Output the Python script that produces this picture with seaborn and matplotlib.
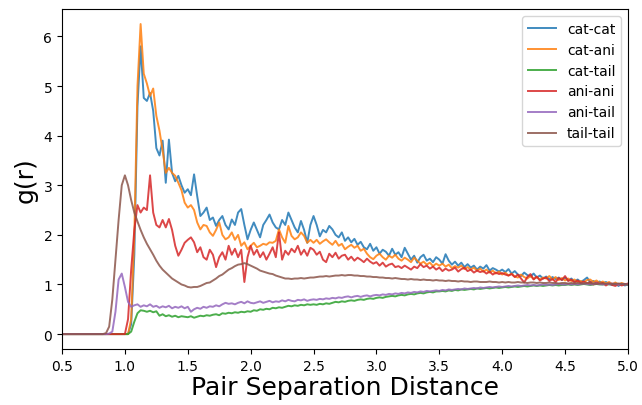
import numpy as np
import pandas as pd
import matplotlib
matplotlib.use("Agg")
import matplotlib.pyplot as plt
import seaborn as sns

# distance bins (step 0.025 from 0.5 to 5.0)
r = np.round(np.arange(0.5, 5.0 + 1e-9, 0.025), 3)

zeros14 = [0.0] * 14
zeros15 = [0.0] * 15
zeros20 = [0.0] * 20

cat_cat = zeros20 + [
    0.0, 0.0, 0.2, 1.6, 4.6, 5.8, 4.76, 4.7, 4.86, 4.5, 3.75, 3.6, 3.9, 3.05, 3.92, 3.25, 3.08, 3.19, 3.0, 2.85,
    2.92, 2.8, 3.22, 2.78, 2.38, 2.45, 2.55, 2.3, 2.35, 2.18, 2.3, 2.38, 2.2, 2.11, 2.31, 2.2, 2.45, 2.52, 2.2, 1.91,
    2.1, 2.25, 2.1, 1.95, 2.2, 2.3, 2.41, 2.25, 2.15, 2.11, 2.3, 2.2, 2.45, 2.3, 2.15, 2.05, 2.28, 2.1, 1.84, 2.2,
    2.38, 2.2, 1.97, 2.1, 2.05, 2.18, 2.11, 2.0, 1.95, 2.05, 1.88, 1.95, 1.85, 1.92, 1.8, 1.86, 1.75, 1.71, 1.82, 1.68,
    1.75, 1.62, 1.7, 1.66, 1.58, 1.72, 1.6, 1.65, 1.55, 1.74, 1.62, 1.5, 1.58, 1.44, 1.55, 1.6, 1.48, 1.52, 1.45, 1.55,
    1.5, 1.42, 1.61, 1.48, 1.4, 1.46, 1.38, 1.44, 1.35, 1.41, 1.34, 1.38, 1.3, 1.36, 1.32, 1.39, 1.28, 1.33, 1.3, 1.26,
    1.3, 1.25, 1.31, 1.22, 1.27, 1.2, 1.17, 1.24, 1.19, 1.16, 1.22, 1.14, 1.18, 1.12, 1.16, 1.1, 1.15, 1.11, 1.14, 1.09,
    1.14, 1.08, 1.12, 1.06, 1.1, 1.05, 1.09, 1.14, 1.04, 1.07, 1.03, 1.06, 1.02, 1.05, 1.01, 0.99, 1.03, 0.97, 1.02, 0.98,
    1.0]

cat_ani = zeros20 + [
    0.0, 0.0, 0.3, 2.0, 5.0, 6.25, 5.25, 5.05, 4.8, 4.95, 4.4, 4.1, 3.7, 3.25, 3.35, 3.25, 3.19, 3.05, 2.9, 2.65,
    2.55, 2.6, 2.5, 2.25, 2.11, 2.2, 2.18, 2.05, 1.98, 2.1, 2.25, 2.0, 1.91, 1.95, 2.05, 1.9, 2.0, 1.78, 1.85, 1.71,
    1.78, 1.84, 1.75, 1.78, 1.82, 1.8, 1.85, 1.84, 1.88, 2.11, 1.95, 1.84, 2.18, 1.98, 1.91, 1.95, 2.05, 1.98, 1.84, 1.9,
    1.84, 1.9, 1.82, 1.87, 1.91, 1.85, 1.8, 1.88, 1.78, 1.82, 1.71, 1.76, 1.8, 1.74, 1.78, 1.68, 1.72, 1.62, 1.55, 1.51,
    1.58, 1.62, 1.55, 1.5, 1.58, 1.54, 1.6, 1.52, 1.48, 1.54, 1.5, 1.45, 1.54, 1.48, 1.42, 1.46, 1.4, 1.44, 1.37, 1.42,
    1.38, 1.42, 1.36, 1.4, 1.33, 1.37, 1.34, 1.38, 1.31, 1.35, 1.3, 1.34, 1.28, 1.32, 1.26, 1.3, 1.24, 1.28, 1.22, 1.26,
    1.2, 1.24, 1.18, 1.22, 1.16, 1.14, 1.2, 1.15, 1.12, 1.17, 1.11, 1.15, 1.1, 1.14, 1.12, 1.17, 1.1, 1.15, 1.09, 1.13,
    1.08, 1.12, 1.07, 1.1, 1.05, 1.07, 1.04, 1.09, 1.1, 1.05, 1.08, 1.03, 1.06, 1.02, 1.05, 1.01, 1.04, 1.0, 1.03, 1.01,
    1.0]

cat_tail = zeros20 + [
    0.0, 0.0, 0.05, 0.25, 0.42, 0.48, 0.47, 0.45, 0.47, 0.44, 0.46, 0.37, 0.4, 0.36, 0.38, 0.35, 0.37, 0.34, 0.36, 0.35,
    0.34, 0.36, 0.33, 0.35, 0.37, 0.36, 0.38, 0.37, 0.39, 0.4, 0.38, 0.42, 0.41, 0.43, 0.42, 0.44, 0.43, 0.45, 0.44, 0.46,
    0.45, 0.48, 0.47, 0.5, 0.49, 0.51, 0.5, 0.53, 0.52, 0.54, 0.53, 0.55, 0.57, 0.56, 0.58, 0.57, 0.59, 0.58, 0.6, 0.59,
    0.6, 0.59, 0.61, 0.6, 0.62, 0.61, 0.63, 0.65, 0.64, 0.66, 0.65, 0.67, 0.68, 0.67, 0.69, 0.7, 0.69, 0.71, 0.72, 0.71,
    0.73, 0.74, 0.73, 0.75, 0.76, 0.77, 0.76, 0.78, 0.79, 0.78, 0.8, 0.81, 0.8, 0.82, 0.83, 0.82, 0.84, 0.85, 0.84, 0.86,
    0.86, 0.87, 0.86, 0.88, 0.87, 0.89, 0.88, 0.9, 0.89, 0.9, 0.91, 0.9, 0.92, 0.91, 0.92, 0.93, 0.92, 0.93, 0.94, 0.93,
    0.94, 0.95, 0.94, 0.95, 0.96, 0.95, 0.96, 0.97, 0.96, 0.97, 0.98, 0.97, 0.98, 0.97, 0.98, 0.99, 0.98, 0.99, 0.98, 0.99,
    0.99, 1.0, 0.99, 1.0, 0.99, 1.0, 1.01, 1.0, 0.99, 1.0, 1.01, 1.0, 1.0, 1.01, 1.0, 1.01, 1.0, 1.01, 1.0, 1.01,
    1.0]

ani_ani = zeros20 + [
    0.0, 0.3, 1.3, 2.1, 2.6, 2.45, 2.55, 2.5, 3.2, 2.45, 2.2, 2.15, 2.3, 2.15, 2.32, 2.1, 1.78, 1.58, 1.7, 1.84,
    1.9, 1.95, 1.85, 1.65, 1.75, 1.55, 1.5, 1.7, 1.6, 1.35, 1.55, 1.65, 1.5, 1.78, 1.6, 1.72, 1.55, 1.7, 1.05, 1.55,
    1.78, 1.6, 1.7, 1.55, 1.65, 1.5, 1.62, 1.75, 1.55, 2.05, 1.5, 1.68, 1.6, 1.72, 1.65, 1.78, 1.6, 1.7, 1.58, 1.74,
    1.7, 1.6, 1.66, 1.5, 1.45, 1.62, 1.55, 1.64, 1.52, 1.58, 1.6, 1.5, 1.56, 1.48, 1.54, 1.5, 1.45, 1.52, 1.46, 1.42,
    1.45, 1.38, 1.44, 1.36, 1.4, 1.42, 1.35, 1.37, 1.33, 1.38, 1.34, 1.3, 1.36, 1.33, 1.41, 1.35, 1.38, 1.32, 1.36, 1.3,
    1.34, 1.27, 1.32, 1.28, 1.3, 1.34, 1.26, 1.31, 1.34, 1.27, 1.3, 1.24, 1.28, 1.25, 1.27, 1.22, 1.26, 1.2, 1.24, 1.21,
    1.23, 1.2, 1.18, 1.21, 1.15, 1.2, 1.12, 1.04, 1.15, 1.21, 1.1, 1.16, 1.08, 1.12, 1.14, 1.07, 1.11, 1.05, 1.13, 1.09,
    1.17, 1.07, 1.1, 1.04, 1.08, 1.03, 1.06, 1.02, 1.05, 1.0, 1.04, 1.01, 1.03, 0.98, 1.02, 0.99, 0.97, 1.01, 0.98, 1.0,
    1.02]

ani_tail = zeros15 + [0.01, 0.05, 0.45, 1.1, 1.22] + [
    0.95, 0.65, 0.55, 0.58, 0.6, 0.55, 0.58, 0.56, 0.6, 0.55, 0.57, 0.53, 0.56, 0.54, 0.57, 0.52, 0.55, 0.53, 0.56, 0.52,
    0.55, 0.45, 0.5, 0.53, 0.51, 0.55, 0.53, 0.56, 0.55, 0.58, 0.56, 0.6, 0.63, 0.61, 0.62, 0.6, 0.63, 0.65, 0.62, 0.66,
    0.63, 0.62, 0.64, 0.66, 0.63, 0.65, 0.67, 0.64, 0.66, 0.65, 0.68, 0.66, 0.69, 0.67, 0.66, 0.69, 0.68, 0.7, 0.67, 0.69,
    0.7, 0.69, 0.71, 0.7, 0.72, 0.71, 0.73, 0.72, 0.74, 0.73, 0.75, 0.76, 0.74, 0.76, 0.77, 0.75, 0.77, 0.78, 0.76, 0.78,
    0.79, 0.78, 0.8, 0.79, 0.81, 0.8, 0.82, 0.81, 0.83, 0.82, 0.84, 0.83, 0.85, 0.84, 0.86, 0.85, 0.87, 0.86, 0.87, 0.88,
    0.87, 0.89, 0.88, 0.9, 0.89, 0.9, 0.91, 0.9, 0.92, 0.91, 0.92, 0.93, 0.92, 0.94, 0.93, 0.94, 0.95, 0.94, 0.95, 0.96,
    0.95, 0.96, 0.97, 0.96, 0.97, 0.98, 0.97, 0.98, 0.99, 0.98, 0.99, 0.98, 0.99, 1.0, 0.99, 1.0, 0.99, 1.0, 1.01, 1.0,
    1.0, 1.01, 1.0, 1.01, 1.0, 1.01, 1.02, 1.01, 1.0, 1.01, 1.02, 1.01, 1.0, 1.01, 1.01, 1.02, 1.01, 1.0, 1.01, 1.01,
    1.0]

tail_tail = zeros14 + [0.02, 0.15, 0.7, 1.5, 2.3, 3.0] + [
    3.2, 3.0, 2.7, 2.45, 2.27, 2.1, 1.95, 1.82, 1.71, 1.6, 1.48, 1.38, 1.3, 1.24, 1.18, 1.12, 1.08, 1.04, 1.0, 0.98,
    0.95, 0.94, 0.95, 0.95, 0.97, 1.0, 1.03, 1.04, 1.08, 1.12, 1.17, 1.2, 1.25, 1.3, 1.33, 1.37, 1.4, 1.41, 1.43, 1.41,
    1.38, 1.35, 1.32, 1.28, 1.26, 1.24, 1.22, 1.21, 1.18, 1.16, 1.14, 1.12, 1.12, 1.11, 1.12, 1.12, 1.13, 1.12, 1.13, 1.14,
    1.14, 1.15, 1.16, 1.16, 1.17, 1.16, 1.17, 1.18, 1.18, 1.19, 1.18, 1.19, 1.19, 1.18, 1.18, 1.17, 1.17, 1.16, 1.16, 1.15,
    1.15, 1.14, 1.14, 1.13, 1.13, 1.12, 1.13, 1.12, 1.11, 1.11, 1.1, 1.11, 1.1, 1.1, 1.09, 1.1, 1.09, 1.09, 1.08, 1.09,
    1.08, 1.08, 1.07, 1.08, 1.07, 1.07, 1.06, 1.07, 1.06, 1.06, 1.05, 1.06, 1.06, 1.05, 1.05, 1.05, 1.06, 1.05, 1.05, 1.04,
    1.05, 1.04, 1.05, 1.04, 1.04, 1.05, 1.04, 1.04, 1.03, 1.04, 1.04, 1.03, 1.04, 1.03, 1.03, 1.04, 1.03, 1.03, 1.02, 1.03,
    1.03, 1.02, 1.03, 1.02, 1.03, 1.02, 1.02, 1.03, 1.02, 1.02, 1.01, 1.02, 1.02, 1.01, 1.02, 1.01, 1.01, 1.02, 1.01, 1.01,
    1.0]

pairs = ["cat-cat", "cat-ani", "cat-tail", "ani-ani", "ani-tail", "tail-tail"]
series = [cat_cat, cat_ani, cat_tail, ani_ani, ani_tail, tail_tail]

# long-form table for seaborn
frames = []
for name, vals in zip(pairs, series):
    frames.append(pd.DataFrame({"r": r, "g": vals, "pair": name}))
df = pd.concat(frames, ignore_index=True)

fig = plt.figure(figsize=(6.42, 4.06), dpi=100)
ax = fig.add_axes([0.0966, 0.138, 0.8815, 0.837])

sns.lineplot(data=df, x="r", y="g", hue="pair", hue_order=pairs,
             palette="tab10", linewidth=1.4, alpha=0.85, ax=ax, sort=False)

ax.set_xlim(0.5, 5.0)
ax.set_ylim(-0.3, 6.55)
ax.set_xticks(np.arange(0.5, 5.01, 0.5))
ax.set_xlabel("Pair Separation Distance", fontsize=18, labelpad=2)
ax.set_ylabel("g(r)", fontsize=18)
ax.tick_params(labelsize=10)
ax.legend(loc="upper right", fontsize=10)

fig.savefig("out.png", dpi=100)
